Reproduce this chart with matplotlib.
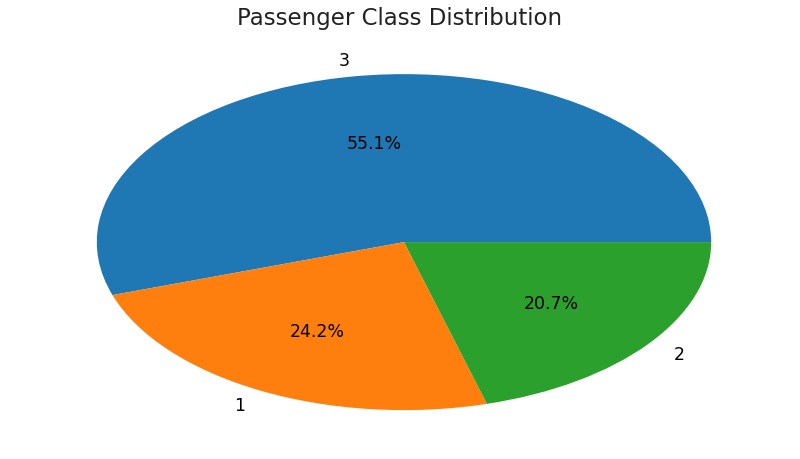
import matplotlib
matplotlib.use("Agg")
import matplotlib.pyplot as plt

# Titanic passenger class counts (value_counts order)
classes = ["3", "1", "2"]
counts = [491, 216, 184]
colors = ["#1f77b4", "#ff7f0e", "#2ca02c"]

fig = plt.figure(figsize=(8, 4.6), dpi=100)
ax = fig.add_axes([0.025, 0.015, 0.96, 0.913])

wedges, texts, autotexts = ax.pie(counts, labels=classes, autopct="%1.1f%%",
                                  colors=colors, textprops={"fontsize": 12.5})
# the original picture is stretched sideways, so drop the equal aspect
ax.set_aspect("auto")

fig.text(0.5, 0.96, "Passenger Class Distribution", ha="center", va="center",
         fontsize=16.5, color="#222222")

fig.savefig("out.png", dpi=100)
